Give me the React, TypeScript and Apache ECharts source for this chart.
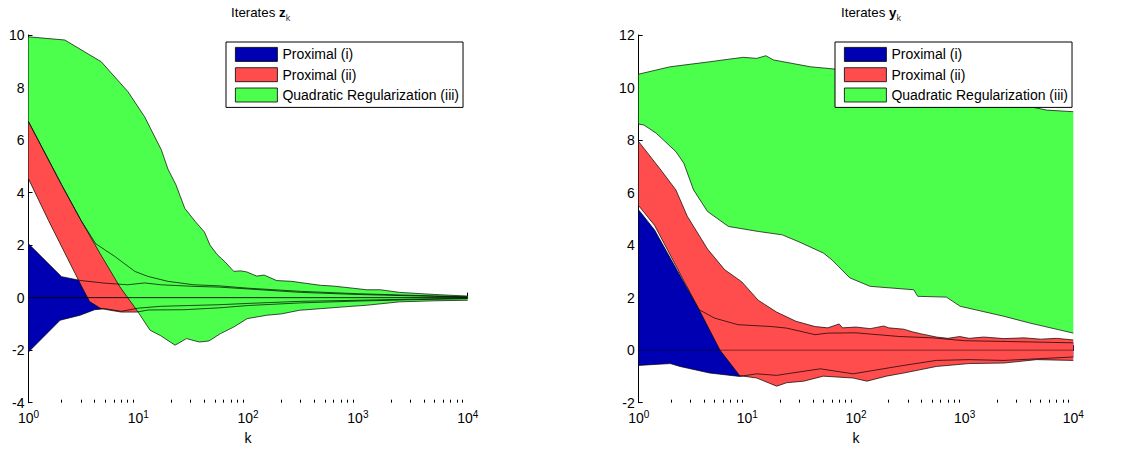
import React, { useEffect, useRef } from "react";
import * as echarts from "echarts";

// ---------- data: [k, value] pairs ----------
// Left panel: iterates z_k
const zBlueHi = [[1, 2.05], [2, 0.8], [3, 0.65], [5, 0.55], [8, 0.49], [11.4, 0.56], [16, 0.49], [32, 0.43], [55, 0.4], [100, 0.33], [300, 0.2], [1000, 0.12], [3000, 0.07], [10000, 0.02]];
const zBlueLo = [[1, -2.07], [1.94, -0.86], [2.95, -0.67], [4, -0.46], [5, -0.42], [7, -0.52], [10, -0.4], [16, -0.33], [54, -0.27], [100, -0.22], [300, -0.14], [1000, -0.1], [3000, -0.06], [10000, -0.02]];
const zRedHi = [[1, 6.7], [2, 4.3], [3, 2.95], [4.1, 2.05], [6.1, 1.57], [9.3, 1.0], [12.2, 0.81], [18.6, 0.62], [32, 0.49], [54, 0.45], [100, 0.36], [300, 0.24], [1000, 0.15], [3000, 0.09], [10000, 0.03]];
const zRedLo = [[1, 4.52], [1.52, 2.94], [2.16, 1.67], [3.06, 0.41], [3.6, -0.15], [4.5, -0.4], [5.2, -0.46], [7, -0.55], [9.7, -0.55], [12.3, -0.47], [26, -0.46], [54, -0.39], [100, -0.3], [300, -0.2], [1000, -0.13], [3000, -0.08], [10000, -0.04]];
const zGreenHi = [[1, 9.93], [2.14, 9.81], [4.6, 8.98], [8.05, 7.84], [11.4, 6.89], [16.2, 5.63], [18.6, 4.9], [22, 4.3], [26.5, 3.4], [33, 2.9], [40, 2.5], [45, 2.0], [52, 1.65], [62, 1.35], [74, 1.0], [85, 1.02], [97, 0.98], [120, 0.82], [140, 0.86], [182, 0.65], [250, 0.62], [330, 0.55], [457, 0.47], [600, 0.44], [900, 0.36], [1200, 0.3], [1600, 0.3], [2400, 0.2], [5000, 0.12], [10000, 0.06]];
const zGreenLo = [[1, 6.7], [2, 4.3], [3, 2.95], [4.5, 1.67], [6.8, 0.41], [9.7, -0.48], [12.8, -1.24], [16, -1.45], [21.6, -1.81], [27.5, -1.56], [36, -1.69], [44, -1.65], [56, -1.37], [74, -1.12], [98, -0.8], [148, -0.67], [200, -0.62], [295, -0.48], [457, -0.42], [700, -0.36], [1200, -0.29], [2400, -0.16], [5000, -0.12], [10000, -0.1]];

// Right panel: iterates y_k
const yBlueHi = [[1, 5.34], [1.4, 4.58], [3.6, 1.54], [5, 1.22], [8.2, 0.97], [16.6, 0.9], [23, 0.84], [42, 0.59], [55, 0.65], [100, 0.66], [250, 0.52], [500, 0.47], [1000, 0.36], [2500, 0.33], [10000, 0.28]];
const yBlueLo = [[1, -0.58], [1.95, -0.51], [2.4, -0.62], [4.5, -0.87], [8.5, -1.0], [12.2, -0.9], [18.6, -0.96], [23, -0.9], [47, -0.71], [94, -0.9], [275, -0.58], [550, -0.39], [1100, -0.36], [2300, -0.39], [4600, -0.33], [10000, -0.26]];
const yRedHi = [[1, 7.94], [1.6, 6.86], [2.2, 6.1], [2.8, 5.1], [4.3, 3.85], [6.2, 3.06], [8.9, 2.6], [12.6, 1.9], [18.6, 1.45], [28, 1.1], [42, 0.9], [55, 0.85], [70, 1.0], [75, 0.85], [100, 0.88], [135, 0.82], [180, 0.92], [200, 0.85], [275, 0.8], [330, 0.7], [400, 0.62], [550, 0.5], [700, 0.45], [900, 0.52], [1100, 0.45], [1500, 0.5], [2300, 0.44], [3500, 0.47], [5000, 0.42], [7000, 0.45], [10000, 0.39]];
const yRedLo = [[1, 5.5], [1.4, 4.75], [3.6, 1.54], [5.6, 0], [8.5, -0.97], [12.2, -1.06], [18.6, -1.37], [23, -1.24], [33, -1.18], [50, -0.99], [94, -1.06], [126, -1.18], [190, -0.99], [275, -0.87], [550, -0.62], [1100, -0.51], [2300, -0.49], [4600, -0.36], [10000, -0.39]];
const yGreenHi = [[1, 10.51], [1.95, 10.79], [4.5, 10.98], [6.5, 11.07], [9.2, 11.15], [12.2, 11.11], [14.8, 11.21], [17.4, 11.05], [38, 10.79], [65, 10.7], [160, 10.4], [400, 10.1], [1000, 9.8], [2000, 9.55], [3200, 9.35], [4000, 9.27], [5700, 9.14], [10000, 9.08]];
const yGreenLo = [[1, 8.61], [1.12, 8.57], [1.45, 8.26], [2.2, 7.56], [2.6, 7.12], [3.2, 6.1], [4.3, 5.28], [6.7, 4.71], [12.6, 4.52], [21, 4.39], [30, 4.12], [50, 3.7], [60, 3.44], [88, 2.75], [135, 2.43], [340, 2.3], [370, 2.05], [680, 2.02], [910, 1.67], [2300, 1.29], [4000, 1.03], [10000, 0.65]];

const seriesNames = ["Proximal (i)", "Proximal (ii)", "Quadratic Regularization (iii)"];
const titles = [["Iterates ", "z", "k"], ["Iterates ", "y", "k"]];
const zeroLine = [[1, 0], [10000, 0]];
const yRanges = [[-4, 10], [-2, 12]];
const xRange = [1, 10000];
const minorTickValues = [2, 3, 4, 5, 6, 7, 8, 9, 20, 30, 40, 50, 60, 70, 80, 90, 200, 300, 400, 500, 600, 700, 800, 900, 2000, 3000, 4000, 5000, 6000, 7000, 8000, 9000];

const FONT = '"Liberation Sans", Arial, Helvetica, sans-serif';
const COLORS = ["#0000B3", "#FF4D4D", "#4DFF4D"];

const bandSeries = (name: string, hi: number[][], lo: number[][], color: string, gi: number) => {
  const poly = hi.concat(lo.slice().reverse());
  return {
    type: "custom",
    name,
    xAxisIndex: gi * 2,
    yAxisIndex: gi,
    z: 2,
    clip: true,
    silent: true,
    itemStyle: { color },
    data: poly,
    encode: { x: 0, y: 1 },
    renderItem: (params: any, api: any) => {
      if (params.dataIndex !== 0) return null;
      const points = poly.map((p) => api.coord(p));
      return { type: "polygon", shape: { points }, style: { fill: color, stroke: "none" } };
    },
  };
};

const edgeSeries = (d: number[][], gi: number) => ({
  type: "line",
  xAxisIndex: gi * 2,
  yAxisIndex: gi,
  data: d,
  showSymbol: false,
  symbol: "none",
  silent: true,
  z: 3,
  lineStyle: { color: "#000", width: 0.7 },
});

const makeXAxes = (gi: number) => [
  {
    gridIndex: gi,
    type: "log",
    logBase: 10,
    min: xRange[0],
    max: xRange[1],
    splitLine: { show: false },
    axisLine: { show: true, lineStyle: { color: "#000", width: 1 } },
    axisTick: { show: true, inside: true, length: 5, lineStyle: { color: "#000" } },
    axisLabel: {
      margin: 7,
      formatter: (v: number) => `{b|10}{s|${Math.round(Math.log10(v))}}`,
      rich: {
        b: { fontSize: 14, fontFamily: FONT, color: "#000", lineHeight: 17 },
        s: { fontSize: 10, fontFamily: FONT, color: "#000", lineHeight: 7, verticalAlign: "top" },
      },
    },
    name: "k",
    nameLocation: "middle",
    nameGap: 28,
    nameTextStyle: { fontSize: 14, fontFamily: FONT, color: "#000" },
  },
  {
    gridIndex: gi,
    type: "log",
    logBase: 10,
    min: xRange[0],
    max: xRange[1],
    position: "bottom",
    splitLine: { show: false },
    axisLine: { show: false },
    axisLabel: { show: false },
    axisTick: { show: true, inside: true, length: 3, customValues: minorTickValues, lineStyle: { color: "#000" } },
  },
];

const makeYAxis = (gi: number) => ({
  gridIndex: gi,
  type: "value",
  min: yRanges[gi][0],
  max: yRanges[gi][1],
  interval: 2,
  splitLine: { show: false },
  axisLine: { show: true, lineStyle: { color: "#000", width: 1 } },
  axisTick: { show: true, inside: true, length: 4, lineStyle: { color: "#000" } },
  axisLabel: { margin: 4, fontSize: 14, fontFamily: FONT, color: "#000" },
});

const makeTitle = (gi: number, left: number) => ({
  text: `{a|${titles[gi][0]}}{b|${titles[gi][1]}}{c|${titles[gi][2]}}`,
  left,
  top: 2,
  padding: 0,
  textStyle: {
    fontWeight: "normal",
    rich: {
      a: { fontSize: 13.3, fontFamily: FONT, color: "#000", fontWeight: "normal", lineHeight: 20 },
      b: { fontSize: 13.3, fontFamily: FONT, color: "#000", fontWeight: "bold", lineHeight: 20 },
      c: { fontSize: 9, fontFamily: FONT, color: "#333", fontWeight: "normal", lineHeight: 9, verticalAlign: "bottom" },
    },
  },
});

const makeLegend = (left: number) => ({
  left,
  top: 42,
  orient: "vertical",
  data: seriesNames,
  icon: "rect",
  itemWidth: 42,
  itemHeight: 14,
  itemGap: 5.5,
  padding: [5, 4, 5, 9],
  borderColor: "#000",
  borderWidth: 1,
  borderRadius: 0,
  backgroundColor: "#fff",
  selectedMode: false,
  z: 10,
  itemStyle: { borderColor: "#000", borderWidth: 0.8 },
  textStyle: { fontSize: 14, fontFamily: FONT, color: "#000" },
});

const bands = [
  [zBlueHi, zBlueLo, zRedHi, zRedLo, zGreenHi, zGreenLo],
  [yBlueHi, yBlueLo, yRedHi, yRedLo, yGreenHi, yGreenLo],
];

const buildSeries = () => {
  const out: any[] = [];
  bands.forEach((b, gi) => {
    for (let i = 0; i < 3; i++) out.push(bandSeries(seriesNames[i], b[i * 2], b[i * 2 + 1], COLORS[i], gi));
    for (let i = 0; i < 6; i++) out.push(edgeSeries(b[i], gi));
    out.push({
      type: "line",
      xAxisIndex: gi * 2,
      yAxisIndex: gi,
      data: zeroLine,
      showSymbol: false,
      symbol: "none",
      silent: true,
      z: 4,
      lineStyle: { color: "#000", width: 1, opacity: gi === 0 ? 0.85 : 0.5 },
    });
  });
  return out;
};

const option: any = {
  animation: false,
  backgroundColor: "#fff",
  title: [makeTitle(0, 231), makeTitle(1, 841)],
  legend: [makeLegend(226), makeLegend(835)],
  grid: [
    { left: 28.5, top: 35, width: 439.2, height: 367.7, containLabel: false },
    { left: 638.7, top: 35, width: 434.6, height: 367.7, containLabel: false },
  ],
  xAxis: [...makeXAxes(0), ...makeXAxes(1)],
  yAxis: [makeYAxis(0), makeYAxis(1)],
  series: buildSeries(),
};

const App = () => {
  const ref = useRef<HTMLDivElement>(null);
  useEffect(() => {
    const chart = echarts.init(ref.current as HTMLDivElement, null, { renderer: "svg" });
    chart.setOption(option);
    return () => chart.dispose();
  }, []);
  return <div ref={ref} style={{ position: "absolute", left: 0, top: 0, width: 1135, height: 452 }} />;
};

export default App;
